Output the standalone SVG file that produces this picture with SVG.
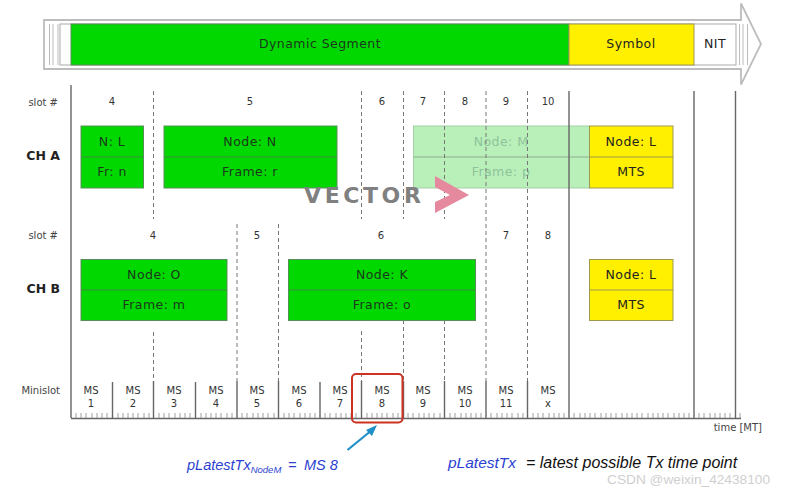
<svg xmlns="http://www.w3.org/2000/svg" width="786" height="493" viewBox="0 0 786 493">
<style>
text{font-family:"DejaVu Sans",Verdana,sans-serif;fill:#222;text-anchor:middle}
.f{font-size:12.5px;letter-spacing:.45px;fill:#1c3a1c}
.y{font-size:12.5px;letter-spacing:.45px;fill:#222}
.s{font-size:10px;fill:#333}
.l{font-size:10px;fill:#444;text-anchor:end}
.ch{font-size:12.5px;font-weight:bold;fill:#222;text-anchor:end}
.g{fill:#00d800;stroke:#5a8f5a;stroke-width:1}
.ye{fill:#fff000;stroke:#a09a50;stroke-width:1}
.sep{stroke:#3f8f3f;stroke-width:1;fill:none}
.d{stroke:#777;stroke-width:1;stroke-dasharray:4 3;fill:none}
.v{stroke:#666;stroke-width:1.400;fill:none}
.o{stroke:#bdbdbd;stroke-width:1.800;fill:none}
.t{stroke:#888;stroke-width:.8;fill:none}
.it{font-family:"Liberation Sans",Arial,sans-serif;font-style:italic;font-size:14.500px;text-anchor:start}
</style>

<g id="header">
<path class="o" d="M741 20H44V69H741V84.500L761 44L741 3.500Z"/>
<path d="M741 20.900V68.100" stroke="#fff" stroke-width="2"/>
<rect x="60" y="24" width="676" height="41" fill="#fff" stroke="#aaa"/>
<path d="M49.500 24V65M53 24V65M58 24V65M739.500 24V65M743 24V65M747.500 24V65" stroke="#bbb" stroke-width="1" fill="none"/>
</g>
<g id="seg-dynamic"><rect x="71" y="24" width="498" height="41" fill="#00d800" stroke="#5a8f5a"/><text class="f" x="320" y="48">Dynamic Segment</text></g>
<g id="seg-symbol"><rect x="569" y="24" width="125" height="41" fill="#fff000" stroke="#a09a50"/><text class="y" x="631" y="48">Symbol</text></g>
<g id="seg-nit"><text class="y" x="715" y="48">NIT</text></g>

<g id="a-n-m"><rect x="413.500" y="126" width="176" height="62" fill="#b9f0ba" stroke="#a5cfa6"/><path d="M413.500 157H589.500" stroke="#8fae90" fill="none"/><text class="f" x="501" y="145.500" style="fill:#8fc39a">Node: M</text><text class="f" x="501" y="176" style="fill:#8fc39a">Frame: p</text></g>

<g id="connectors">
<path class="v" d="M71 85V418M569 91V418M694 91V418M735.500 91V418"/>
<path class="d" d="M153.500 91V219M153.500 332V381M361.500 91V219M361.500 331V381M403.500 91V219M403.500 320V381M444.500 91V219M444.500 320V381M486 91V381M527.500 91V381M237 224V381M278.500 224V381"/>
<path class="v" d="M112.500 382V418M153.500 381V418M195.500 382V418M237 381V418M278.500 381V418M320 382V418M361.500 381V418M403.500 381V418M444.500 381V418M486 381V418M527.500 381V418"/>
<path class="v" d="M71 418.500H741"/>
<path class="t" d="M76 413V418M81 413V418M86 413V418M92 413V418M97 413V418M102 413V418M107 413V418M118 413V418M123 413V418M128 413V418M133 413V418M138 413V418M144 413V418M149 413V418M159 413V418M164 413V418M169 413V418M175 413V418M180 413V418M185 413V418M190 413V418M201 413V418M206 413V418M211 413V418M216 413V418M221 413V418M227 413V418M232 413V418M242 413V418M247 413V418M253 413V418M258 413V418M263 413V418M268 413V418M274 413V418M284 413V418M289 413V418M294 413V418M300 413V418M305 413V418M310 413V418M315 413V418M325 413V418M330 413V418M336 413V418M341 413V418M346 413V418M351 413V418M356 413V418M367 413V418M372 413V418M377 413V418M382 413V418M387 413V418M393 413V418M398 413V418M408 413V418M413 413V418M419 413V418M424 413V418M429 413V418M434 413V418M440 413V418M450 413V418M455 413V418M461 413V418M466 413V418M471 413V418M476 413V418M481 413V418M491 413V418M497 413V418M502 413V418M507 413V418M512 413V418M518 413V418M523 413V418M533 413V418M538 413V418M543 413V418M549 413V418M554 413V418M559 413V418M564 413V418M574 413V418M580 413V418M585 413V418M590 413V418M595 413V418M601 413V418M606 413V418M611 413V418M616 413V418M622 413V418M627 413V418M632 413V418M637 413V418M642 413V418M648 413V418M653 413V418M658 413V418M663 413V418M668 413V418M674 413V418M679 413V418M684 413V418M689 413V418M699 413V418M704 413V418M710 413V418M715 413V418M720 413V418M725 413V418M730 413V418M740 413V418"/>
</g>

<g id="labels">
<text class="l" x="58" y="106">slot #</text>
<text class="s" x="112" y="105">4</text><text class="s" x="250" y="105">5</text><text class="s" x="382" y="105">6</text><text class="s" x="423" y="105">7</text><text class="s" x="465" y="105">8</text><text class="s" x="506" y="105">9</text><text class="s" x="548" y="105">10</text>
<text class="ch" x="60" y="160">CH A</text>
<text class="l" x="58" y="239">slot #</text>
<text class="s" x="153" y="239">4</text><text class="s" x="257" y="239">5</text><text class="s" x="381" y="239">6</text><text class="s" x="506" y="239">7</text><text class="s" x="548" y="239">8</text>
<text class="ch" x="60" y="293">CH B</text>
<text class="l" x="60" y="394">Minislot</text>
<text class="s" x="91" y="394">MS</text><text class="s" x="91" y="407">1</text>
<text class="s" x="133" y="394">MS</text><text class="s" x="133" y="407">2</text>
<text class="s" x="174" y="394">MS</text><text class="s" x="174" y="407">3</text>
<text class="s" x="216" y="394">MS</text><text class="s" x="216" y="407">4</text>
<text class="s" x="257" y="394">MS</text><text class="s" x="257" y="407">5</text>
<text class="s" x="299" y="394">MS</text><text class="s" x="299" y="407">6</text>
<text class="s" x="340" y="394">MS</text><text class="s" x="340" y="407">7</text>
<text class="s" x="382" y="394">MS</text><text class="s" x="382" y="407">8</text>
<text class="s" x="423" y="394">MS</text><text class="s" x="423" y="407">9</text>
<text class="s" x="465" y="394">MS</text><text class="s" x="465" y="407">10</text>
<text class="s" x="506" y="394">MS</text><text class="s" x="506" y="407">11</text>
<text class="s" x="548" y="394">MS</text><text class="s" x="548" y="407">x</text>
<text class="l" x="762" y="431">time [MT]</text>
</g>

<g id="a-n-l"><rect class="g" x="81" y="126" width="62.500" height="62"/><path class="sep" d="M81 157H143.500"/><text class="f" x="112" y="145.500">N: L</text><text class="f" x="112" y="176">Fr: n</text></g>
<g id="a-n-n"><rect class="g" x="164" y="126" width="173" height="62"/><path class="sep" d="M164 157H337"/><text class="f" x="250" y="145.500">Node: N</text><text class="f" x="250" y="176">Frame: r</text></g>
<g id="a-n-lmts"><rect class="ye" x="589.500" y="126" width="83.500" height="62"/><path d="M589.500 157H673" stroke="#a09a50"/><text class="y" x="631" y="145.500">Node: L</text><text class="y" x="631" y="176">MTS</text></g>
<g id="b-n-o"><rect class="g" x="81" y="259.500" width="146" height="61"/><path class="sep" d="M81 290H227"/><text class="f" x="154" y="278.500">Node: O</text><text class="f" x="154" y="309">Frame: m</text></g>
<g id="b-n-k"><rect class="g" x="288.500" y="259.500" width="187" height="61"/><path class="sep" d="M288.500 290H475.500"/><text class="f" x="382" y="278.500">Node: K</text><text class="f" x="382" y="309">Frame: o</text></g>
<g id="b-n-lmts"><rect class="ye" x="589.500" y="259.500" width="83.500" height="61"/><path d="M589.500 290H673" stroke="#a09a50"/><text class="y" x="631" y="278.500">Node: L</text><text class="y" x="631" y="309">MTS</text></g>

<g id="watermark-vector">
<text x="304" y="203" style="font-family:'DejaVu Sans',sans-serif;font-weight:bold;font-size:22px;letter-spacing:3.600px;fill:#808080;text-anchor:start">VECTOR</text>
<path d="M435 176L469 195L435 213V202L450 195L435 187Z" fill="#e58a9e"/>
</g>

<g id="highlight">
<rect x="352" y="374" width="50.500" height="48.500" rx="4" fill="none" stroke="#cc3322" stroke-width="2"/>
<path d="M347.500 450L372 430" stroke="#1f8fc8" stroke-width="2.200" fill="none"/>
<path d="M377 425L366 430L372 436Z" fill="#1f8fc8"/>
</g>

<g id="notes">
<text class="it" x="187" y="470" style="fill:#2b3fd0">pLatestTx<tspan font-size="9.500" dy="3">NodeM</tspan><tspan dy="-3" x="288">=</tspan><tspan x="304">MS 8</tspan></text>
<text class="it" x="448" y="468" style="fill:#2b3fd0;font-size:15.500px">pLatestTx</text>
<text class="it" x="526" y="468" style="fill:#111;font-size:16px">= latest possible Tx time point</text>
<text x="607" y="484" style="font-family:'Liberation Sans',Arial,sans-serif;font-size:13.700px;fill:#cfcfcf;text-anchor:start">CSDN @weixin_42438100</text>
</g>
</svg>
